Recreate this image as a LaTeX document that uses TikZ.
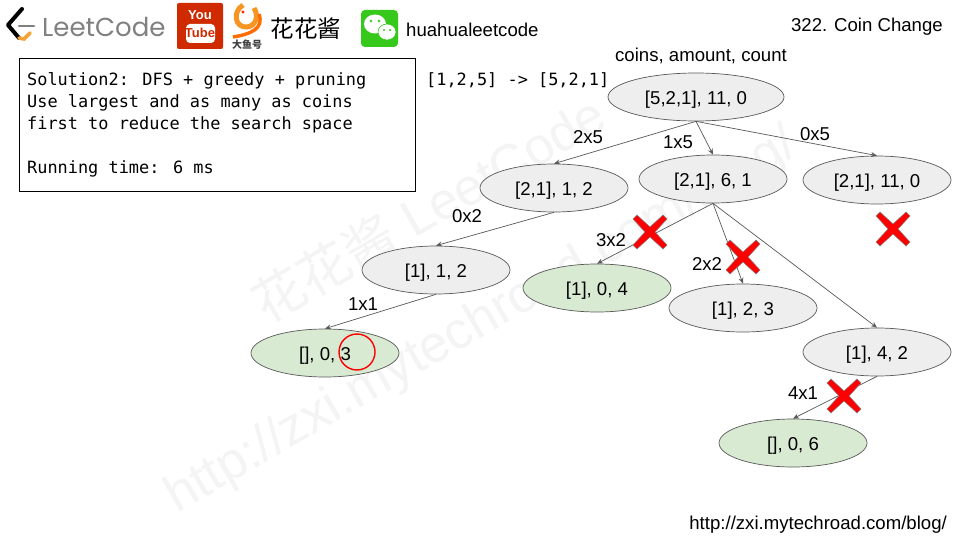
\documentclass[tikz,border=0pt]{standalone}
\usepackage{fontspec}
\setmainfont{Liberation Sans}
\newfontfamily\cjk{Noto Sans CJK SC}
\newfontfamily\codefont{DejaVu Sans Mono}
\newfontfamily\logofont{Poppins}
\usetikzlibrary{shapes.geometric,arrows.meta}
\definecolor{ell}{HTML}{EEEEEE}
\definecolor{grn}{HTML}{D9EAD3}
\definecolor{edgec}{HTML}{595959}
\definecolor{wm}{HTML}{F4F4F4}
\definecolor{ytred}{HTML}{CF2A00}
\definecolor{wcgreen}{HTML}{36C81A}
\definecolor{lcgray}{HTML}{808080}
\definecolor{lcorange}{HTML}{F2A33A}
\tikzset{
 x=1pt,y=-1pt,
 state/.style={ellipse,draw=edgec,line width=0.7pt,minimum width=148pt,minimum height=48pt,inner sep=0pt,text height=15pt,text depth=0pt,font=\fontsize{18.6}{20}\selectfont},
 grey/.style={state,fill=ell},
 good/.style={state,fill=grn},
 conn/.style={draw=edgec,line width=0.7pt,-{Stealth[length=6pt,width=5pt]}},
 lab/.style={inner sep=0pt,font=\fontsize{18.6}{20}\selectfont},
 wmark/.style={inner sep=0pt,text=wm,font=\fontsize{52}{56}\selectfont},
 crossmark/.pic={
  \draw[draw=gray,fill=red,line width=0.5pt] (-13,-17)--(0,-5)--(13,-17)--(17,-13)--(5,0)--(17,13)--(13,17)--(0,5)--(-13,17)--(-17,13)--(-5,0)--(-17,-13)--cycle;
 }
}
\begin{document}
\begin{tikzpicture}
\useasboundingbox (0,0) rectangle (960,540);
\fill[white] (0,0) rectangle (960,540);
% watermarks
\node[wmark,rotate=30] (wm1) at (428,208) {{\cjk 花花酱} LeetCode};
\node[wmark,rotate=30] (wm2) at (482,322) {http://zxi.mytechroad.com/blog/};
% header logos
\draw[line width=4pt,line cap=round,line join=round] (22,9)--(8,25)--(19,38);
\draw[line width=3.6pt,line cap=round,lcorange] (19,38)--(24,39)--(30,33);
\draw[line width=2.6pt,lcgray,line cap=round] (19,26)--(34,26);
\node[inner sep=0pt,anchor=west,text=lcgray,font=\logofont\fontsize{26}{30}\selectfont] (lc) at (42,27) {LeetCode};
\fill[ytred,rounded corners=2pt] (177,3) rectangle (223,49);
\node[inner sep=0pt,text=white,font=\bfseries\fontsize{13}{13}\selectfont] (yt1) at (200,15) {You};
\fill[white,rounded corners=4pt] (186,24) rectangle (215,43);
\node[inner sep=0pt,text=ytred,font=\bfseries\fontsize{13}{13}\selectfont] (yt2) at (200,33) {Tube};
\draw[line width=5pt,lcorange!60!orange] (243,5) .. controls (232,12) and (235,28) .. (247,27) .. controls (256,26) and (259,16) .. (254,8);
\draw[line width=3.4pt,orange!85!red] (259,14) .. controls (264,28) and (252,34) .. (233,37);
\fill[red!70!orange] (243,12) circle (1.6pt);
\node[inner sep=0pt,text=darkgray,font=\cjk\bfseries\fontsize{10}{10}\selectfont] (dyh) at (247,45) {大鱼号};
\node[inner sep=0pt,font=\cjk\fontsize{23.5}{25}\selectfont] (hhj) at (306,29) {花花酱};
\fill[wcgreen,rounded corners=4pt] (361,10) rectangle (398,47);
\fill[white] (375,24) ellipse (11pt and 9.5pt);
\fill[white] (387,32) ellipse (9pt and 8pt);
\draw[wcgreen,line width=0.6pt] (387,32) ellipse (9pt and 8pt);
\fill[wcgreen] (371,21) circle (1.4pt) (379,21) circle (1.4pt) (384,30) circle (1.1pt) (390,30) circle (1.1pt);
\node[inner sep=0pt,anchor=west,font=\fontsize{18.6}{20}\selectfont] (wx) at (406,29.5) {huahualeetcode};
\node[inner sep=0pt,anchor=east,font=\fontsize{18.6}{20}\selectfont] (title) at (943,27) {322. Coin Change};
% solution box
\node[draw=black,line width=1pt,anchor=north west,minimum width=396pt,minimum height=133pt,inner sep=0pt] (box) at (18.5,58) {};
\node[inner sep=0pt,anchor=north west,align=left,font=\codefont\fontsize{16.9}{22}\selectfont] (sol) at (27,72) {Solution2: DFS + greedy + pruning\\Use largest and as many as coins\\first to reduce the search space\\[22pt]Running time: 6 ms};
\node[inner sep=0pt,anchor=west,font=\codefont\fontsize{16.9}{22}\selectfont] (arr) at (426,80) {[1,2,5] -> [5,2,1]};
\node[lab] (hdr) at (701,56) {coins, amount, count};
% states
\node[grey,minimum width=176pt] (r) at (696,97) {[5,2,1], 11, 0};
\node[grey] (a) at (554,188) {[2,1], 1, 2};
\node[grey] (b) at (713,179) {[2,1], 6, 1};
\node[grey] (c) at (877,180) {[2,1], 11, 0};
\node[grey] (d) at (436,270) {[1], 1, 2};
\node[good] (e) at (597,288) {[1], 0, 4};
\node[grey] (f) at (743,308) {[1], 2, 3};
\node[grey] (g) at (877,352) {[1], 4, 2};
\node[good] (h) at (325,353) {[], 0, 3};
\node[good] (i) at (793,443) {[], 0, 6};
% connectors
\draw[conn] (r.south) -- (a.north);
\draw[conn] (r.south) -- (b.north);
\draw[conn] (r.south) -- (c.north);
\draw[conn] (a.south) -- (d.north);
\draw[conn] (d.south) -- (h.north);
\draw[conn] (b.south) -- (e.north);
\draw[conn] (b.south) -- (f.north);
\draw[conn] (b.south) -- (g.north);
\draw[conn] (g.south) -- (i.north);
% edge labels
\node[lab] (l1) at (588,137.5) {2x5};
\node[lab] (l2) at (678,142.5) {1x5};
\node[lab] (l3) at (815,134.5) {0x5};
\node[lab] (l4) at (467,216.5) {0x2};
\node[lab] (l5) at (611,240.5) {3x2};
\node[lab] (l6) at (707,264.5) {2x2};
\node[lab] (l7) at (363,304.5) {1x1};
\node[lab] (l8) at (803,393.5) {4x1};
% crosses and circle
\pic at (650,232) {crossmark};
\pic at (743,257) {crossmark};
\pic at (893,229) {crossmark};
\pic at (844,396) {crossmark};
\draw[red,line width=1.4pt] (357,352) circle (18pt);
\node[inner sep=0pt,anchor=east,font=\fontsize{18.6}{20}\selectfont] (url) at (947,525) {http://zxi.mytechroad.com/blog/};
\end{tikzpicture}
\end{document}
